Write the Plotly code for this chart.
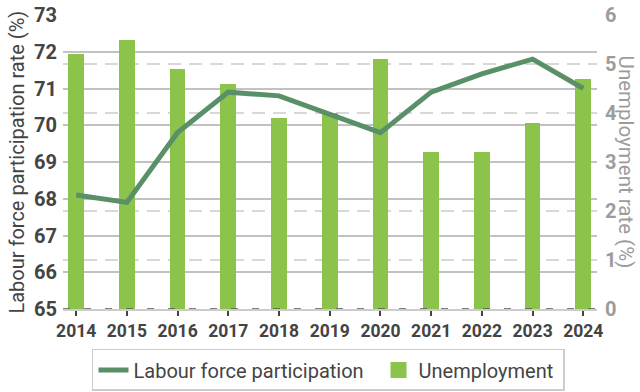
import plotly.graph_objects as go

years = [2014, 2015, 2016, 2017, 2018, 2019, 2020, 2021, 2022, 2023, 2024]
participation = [68.1, 67.9, 69.8, 70.9, 70.8, 70.3, 69.8, 70.9, 71.4, 71.8, 71.0]
unemployment = [5.2, 5.5, 4.9, 4.6, 3.9, 4.0, 5.1, 3.2, 3.2, 3.8, 4.7]

LINE_COLOR = "#5a9068"
BAR_COLOR = "#8bc34b"
DARK = "#444444"
LIGHT = "#9c9c9c"
FONT = "Roboto"

fig = go.Figure()

# Unemployment bars on the right-hand axis
fig.add_trace(go.Bar(
    x=years, y=unemployment, width=0.31, marker_color=BAR_COLOR,
    marker_line_width=0, showlegend=False, yaxis="y", name="Unemployment",
))

# Participation line on the left-hand axis (overlaying, so drawn on top)
fig.add_trace(go.Scatter(
    x=years, y=participation, mode="lines", yaxis="y2",
    line=dict(color=LINE_COLOR, width=5),
    name="Labour force participation\u00a0\u00a0",
))

# Legend-only entry with a large square swatch for the bars
fig.add_trace(go.Scatter(
    x=[None], y=[None], mode="markers", yaxis="y", name="Unemployment\u00a0",
    marker=dict(symbol="square", size=22, color=BAR_COLOR),
))

fig.update_layout(
    width=640, height=392,
    margin=dict(l=63, r=43, t=15, b=83, autoexpand=False),
    paper_bgcolor="white", plot_bgcolor="white",
    font=dict(family=FONT, color=DARK),
    bargap=0,
    xaxis=dict(
        range=[2013.74, 2024.27], tickmode="array", tickvals=years,
        ticks="outside", ticklen=5, tickcolor=DARK, tickwidth=1.5,
        showline=True, linecolor="#cccccc", linewidth=2,
        showgrid=False, zeroline=False,
        tickfont=dict(family=FONT, size=17.5, color=DARK, weight="bold"),
    ),
    yaxis=dict(
        side="right", range=[0, 6], dtick=1,
        showgrid=True, gridcolor="#d8d8d8", gridwidth=2, griddash="13px,8px",
        zeroline=False, showline=False, ticks="", ticklabelstandoff=7,
        tickfont=dict(family=FONT, size=20, color=LIGHT, weight="bold"),
    ),
    yaxis2=dict(
        side="left", overlaying="y", range=[65, 73], dtick=1,
        showgrid=True, gridcolor="#c2c2c2", gridwidth=1.5,
        zeroline=False, showline=False,
        ticks="", ticklabelstandoff=5,
        tickfont=dict(family=FONT, size=20, color=DARK, weight="bold"),
    ),
    legend=dict(
        orientation="h", x=0.0543, xanchor="left", y=-0.136, yanchor="top",
        bordercolor="#cccccc", borderwidth=1.5,
        font=dict(family=FONT, size=20, color=DARK),
    ),
    annotations=[
        dict(text="Labour force participation rate (%)", xref="paper", yref="paper",
             x=-0.0861, y=0.498, xanchor="center", yanchor="middle",
             textangle=-90, showarrow=False,
             font=dict(family=FONT, size=20, color=DARK)),
        dict(text="Unemployment rate (%)", xref="paper", yref="paper",
             x=1.0543, y=0.498, xanchor="center", yanchor="middle",
             textangle=90, showarrow=False,
             font=dict(family=FONT, size=20.5, color=LIGHT)),
    ],
    shapes=[
        dict(type="line", xref="paper", yref="y", x0=0, x1=1, y0=0, y1=0,
             line=dict(color="#555555", width=1.5, dash="7px,14px"), layer="above"),
    ],
)

fig.write_html("out.html")
